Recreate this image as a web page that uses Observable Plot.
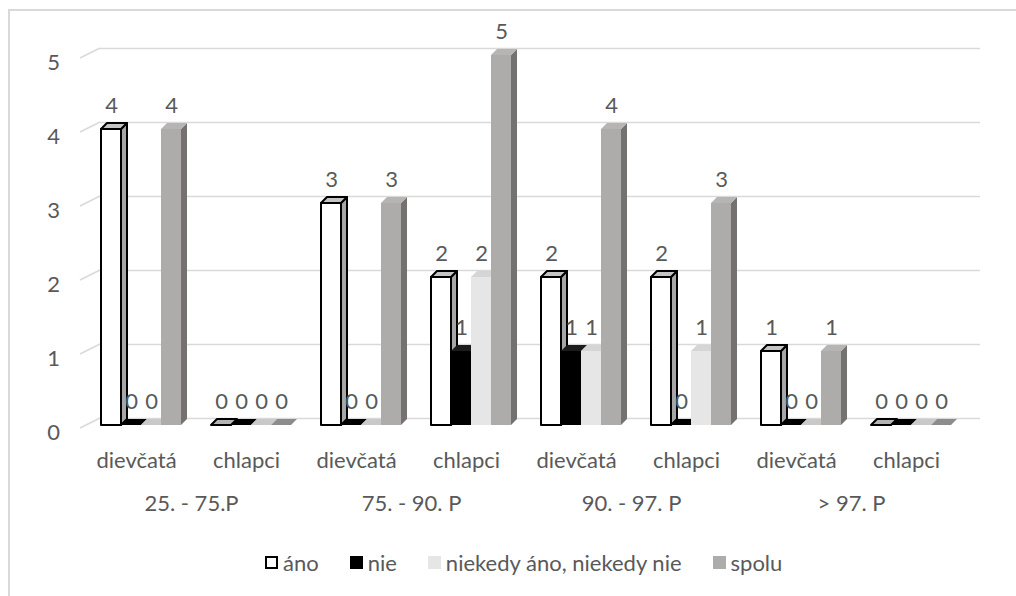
<!DOCTYPE html>
<html>
<head>
<meta charset="utf-8">
<script src="https://cdn.jsdelivr.net/npm/d3@7"></script>
<script src="https://cdn.jsdelivr.net/npm/@observablehq/plot@0.6"></script>
<style>
  html, body { margin: 0; padding: 0; background: #ffffff; }
  #chart { position: relative; width: 1016px; height: 596px; overflow: hidden; font-family: Lato, "Open Sans", sans-serif; }
  .edge { position: absolute; background: #d9d9d9; }
  #plot { position: absolute; left: 0; top: 0; }
  #legend { position: absolute; top: 549px; left: 265px; display: flex; align-items: center; gap: 31px;
            font-size: 22px; color: #595959; white-space: nowrap; }
  #legend .item { display: flex; align-items: center; gap: 5px; }
  #legend .sw { width: 13px; height: 13px; box-sizing: border-box; }
</style>
</head>
<body>
<div id="chart">
  <div class="edge" style="left:8px;top:9px;width:2px;height:600px"></div>
  <div class="edge" style="left:8px;top:9px;width:1020px;height:2px"></div>
  <div id="plot"></div>
  <div id="legend"></div>
</div>
<script>
// Bottom-row categories and the percentile bands they belong to (two per band)
const categories = ["dievčatá", "chlapci", "dievčatá", "chlapci", "dievčatá", "chlapci", "dievčatá", "chlapci"];
const bands = ["25. - 75.P", "75. - 90. P", "90. - 97. P", "> 97. P"];
const series = ["áno", "nie", "niekedy áno, niekedy nie", "spolu"];

// Counts per category, one array per answer
const ano     = [4, 0, 3, 2, 2, 2, 1, 0];
const nie     = [0, 0, 0, 1, 1, 0, 0, 0];
const niekedy = [0, 0, 0, 2, 1, 1, 0, 0];
const spolu   = [4, 0, 3, 5, 4, 3, 1, 0];

const yTicks = [0, 1, 2, 3, 4, 5];

// Face colours of the extruded columns (flat = lid of an empty column)
const palette = {
  "áno":                      {front: "#ffffff", side: "#a6a6a6", top: "#c4c4c4", flat: "#b4b4b4", stroke: "#000000", sw: 2},
  "nie":                      {front: "#000000", side: "#000000", top: "#1c1c1c", flat: "#000000", stroke: "none", sw: 0},
  "niekedy áno, niekedy nie": {front: "#e7e6e6", side: "#cfcdcd", top: "#d6d5d5", flat: "#c9c9c9", stroke: "none", sw: 0},
  "spolu":                    {front: "#aeabab", side: "#767171", top: "#b7b4b4", flat: "#8c8c8c", stroke: "none", sw: 0}
};
const DEPTH = 6;
const FONT = 22;
const textColor = "#595959";
const gridColor = "#d9d9d9";

const values = [ano, nie, niekedy, spolu];
const keys = categories.map((c, i) => `${bands[Math.floor(i / 2)]}|${c}`);
const rows = keys.flatMap((k, i) => series.map((s, j) => ({key: k, series: s, value: values[j][i]})));
const bandRows = bands.map((b, g) => ({key: keys[g * 2], label: b}));
const firstKey = () => keys[0];

// Draws each column as a front face plus a slanted side and top face
function column3d(index, scales, vals) {
  const bw = scales.x.bandwidth ? scales.x.bandwidth() : 20;
  const g = d3.create("svg:g");
  for (const i of index) {
    const d = rows[i];
    const p = palette[d.series];
    const x0 = vals.x[i], x1 = x0 + bw;
    const yTop = Math.min(vals.y1[i], vals.y2[i]);
    const yBot = Math.max(vals.y1[i], vals.y2[i]);
    const common = (sel) => sel.attr("stroke", p.stroke).attr("stroke-width", p.sw).attr("stroke-linejoin", "round");
    if (yBot - yTop > 0.5) {
      common(g.append("path")
        .attr("d", `M${x1},${yBot}L${x1 + DEPTH},${yBot - DEPTH}L${x1 + DEPTH},${yTop - DEPTH}L${x1},${yTop}Z`)
        .attr("fill", p.side));
    }
    common(g.append("path")
      .attr("d", `M${x0},${yTop}L${x0 + DEPTH},${yTop - DEPTH}L${x1 + DEPTH},${yTop - DEPTH}L${x1},${yTop}Z`)
      .attr("fill", d.value === 0 ? p.flat : p.top));
    if (yBot - yTop > 0.5) {
      common(g.append("rect")
        .attr("x", x0).attr("y", yTop).attr("width", bw).attr("height", yBot - yTop)
        .attr("fill", p.front));
    }
  }
  return g.node();
}

// Short slanted strokes joining each value label to the back wall
function wallTicks(index, scales, vals) {
  const g = d3.create("svg:g").attr("stroke", gridColor).attr("stroke-width", 1.5).attr("fill", "none");
  const xl = d3.min(scales.x.range());
  for (const i of index) {
    const y = vals.y[i];
    g.append("line").attr("x1", xl - 1).attr("y1", y + 3).attr("x2", xl + 19).attr("y2", y - 7);
  }
  return g.node();
}

const chart = Plot.plot({
  width: 1016,
  height: 540,
  marginLeft: 81,
  marginRight: 55,
  marginTop: 55,
  marginBottom: 115,
  style: {fontFamily: "Lato, 'Open Sans', sans-serif", fontSize: `${FONT}px`, color: textColor, background: "transparent", overflow: "visible"},
  fx: {domain: keys, paddingInner: 0, paddingOuter: 0, label: null},
  x: {domain: series, paddingInner: 0, paddingOuter: 0.75, align: 0.667, axis: null},
  y: {domain: [0, 5], axis: null},
  marks: [
    Plot.ruleY(yTicks, {y: d => d, dx: 19, dy: -7, stroke: gridColor, strokeWidth: 1.5}),
    Plot.ruleY(yTicks, {fx: firstKey, y: d => d, render: wallTicks}),
    Plot.text(yTicks, {fx: firstKey, y: d => d, text: d => String(d), frameAnchor: "left", textAnchor: "middle", dx: -28, dy: 7, fill: textColor, fontSize: FONT}),
    Plot.barY(rows, {fx: "key", x: "series", y: "value", render: column3d}),
    Plot.text(rows, {fx: "key", x: "series", y: "value", text: d => String(d.value), dy: -24, fill: textColor, fontSize: FONT}),
    Plot.axisFx({anchor: "bottom", tickSize: 0, tickPadding: 27, tickFormat: k => k.split("|")[1], color: textColor, fontSize: FONT, label: null}),
    Plot.text(bandRows, {fx: "key", text: "label", frameAnchor: "bottom-right", textAnchor: "middle", dy: 85, fill: textColor, fontSize: FONT})
  ]
});
document.getElementById("plot").append(chart);

// Legend
const legend = document.getElementById("legend");
for (const s of series) {
  const p = palette[s];
  const item = document.createElement("div");
  item.className = "item";
  const sw = document.createElement("span");
  sw.className = "sw";
  sw.style.background = p.front;
  if (p.stroke !== "none") sw.style.border = `2px solid ${p.stroke}`;
  const label = document.createElement("span");
  label.textContent = s;
  item.append(sw, label);
  legend.append(item);
}
</script>
</body>
</html>
